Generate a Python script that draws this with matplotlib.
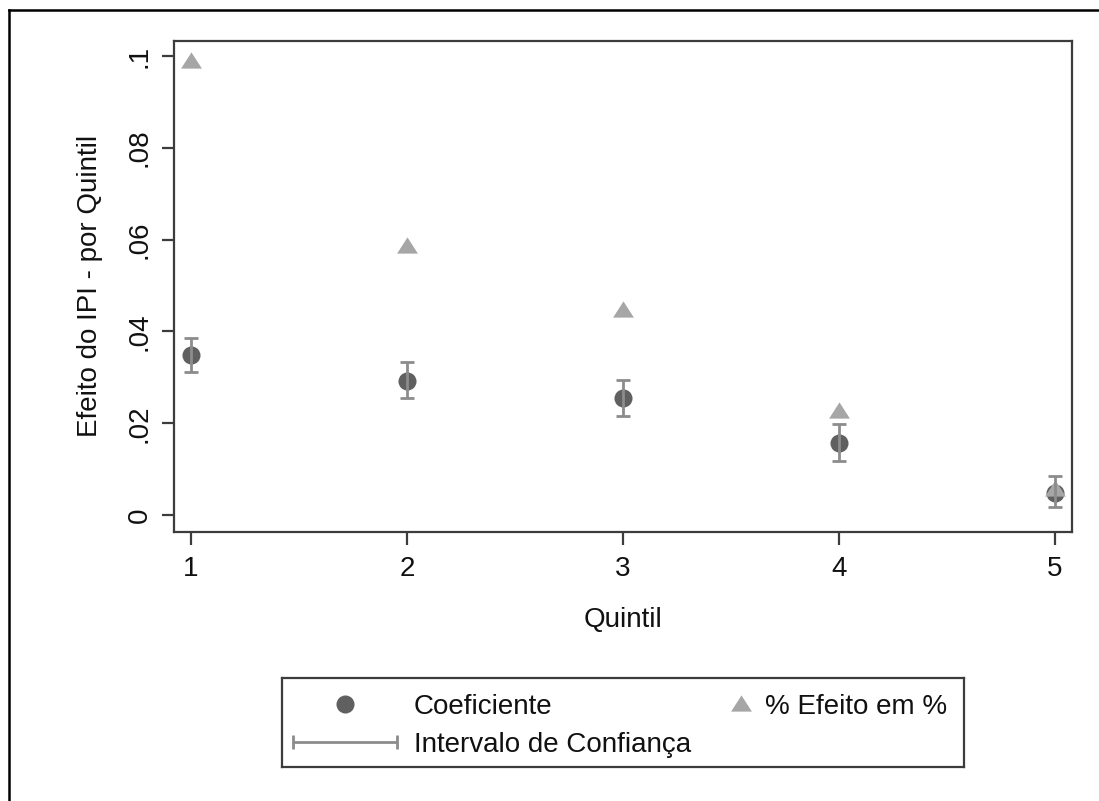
import matplotlib.pyplot as plt
from matplotlib.lines import Line2D

plt.rcParams['font.family'] = ['Liberation Sans', 'DejaVu Sans']

# coeficientes por quintil com intervalo de confiança
quintis = [1, 2, 3, 4, 5]
coef = [0.0349, 0.0293, 0.0255, 0.0158, 0.0047]
ic_inf = [0.0312, 0.0255, 0.0216, 0.0118, 0.0017]
ic_sup = [0.0385, 0.0333, 0.0294, 0.0198, 0.0084]
efeito_pct = [0.0991, 0.0589, 0.0449, 0.0228, 0.0059]

yticks = [0, 0.02, 0.04, 0.06, 0.08, 0.1]
ytick_labels = ['0', '.02', '.04', '.06', '.08', '.1']

cor_coef = '#606060'
cor_efeito = '#a6a6a6'
cor_ic = '#8c8c8c'
cor_eixo = '#3c3c3c'
cor_texto = '#111111'

# triangulo mais largo que alto, como no Stata
tri = [(-1, -0.78), (1, -0.78), (0, 0.78), (-1, -0.78)]

fig = plt.figure(figsize=(10.99, 8.01), dpi=100)
ax = fig.add_axes([0.1579, 0.3358, 0.8171, 0.6136])

ax.plot(quintis, coef, 'o', color=cor_coef, markersize=13, markeredgewidth=0, zorder=2)
ax.plot(quintis, efeito_pct, marker=tri, linestyle='none', color=cor_efeito,
        markersize=15, markeredgewidth=0, zorder=3)
erro = [[c - lo for c, lo in zip(coef, ic_inf)], [hi - c for c, hi in zip(coef, ic_sup)]]
ax.errorbar(quintis, coef, yerr=erro, fmt='none', ecolor=cor_ic, elinewidth=2.0,
            capsize=5, capthick=2.0, zorder=4)

ax.set_xlim(0.92, 5.076)
ax.set_ylim(-0.0037, 0.1034)
ax.set_xticks(quintis)
ax.set_yticks(yticks, ytick_labels, rotation=90, va='center')

for s in ax.spines.values():
    s.set_color(cor_eixo)
    s.set_linewidth(1.6)
ax.tick_params(axis='both', direction='out', length=9, width=1.6, color=cor_eixo,
               labelsize=20, labelcolor=cor_texto)
ax.tick_params(axis='x', pad=8)
ax.tick_params(axis='y', pad=6)

ax.set_xlabel('Quintil', fontsize=20, color=cor_texto, labelpad=18)
ax.set_ylabel('Efeito do IPI - por Quintil', fontsize=20, color=cor_texto, labelpad=17)

# legenda desenhada à mão numa caixa própria
leg = fig.add_axes([0.2569, 0.0428, 0.6203, 0.1104])
leg.set_xlim(0, 1)
leg.set_ylim(0, 1)
leg.set_xticks([])
leg.set_yticks([])
for s in leg.spines.values():
    s.set_color(cor_eixo)
    s.set_linewidth(1.6)

leg.plot([0.092], [0.706], 'o', color=cor_coef, markersize=13, markeredgewidth=0)
leg.text(0.193, 0.706, 'Coeficiente', fontsize=20, color=cor_texto, va='center_baseline')
leg.plot([0.673], [0.725], marker=tri, linestyle='none', color=cor_efeito,
         markersize=15, markeredgewidth=0)
leg.text(0.708, 0.706, '% Efeito em %', fontsize=20, color=cor_texto, va='center_baseline')
leg.errorbar([0.0915], [0.276], xerr=[[0.0762]], fmt='none', ecolor=cor_ic,
             elinewidth=2.0, capsize=5, capthick=2.0)
leg.text(0.193, 0.276, 'Intervalo de Confiança', fontsize=20, color=cor_texto,
         va='center_baseline')

# moldura externa (só topo e lado esquerdo)
x0, y0 = 9 / 1099, 1 - 10 / 801
fig.add_artist(Line2D([x0, 1], [y0, y0], transform=fig.transFigure, color='black', linewidth=1.8))
fig.add_artist(Line2D([x0, x0], [0, y0], transform=fig.transFigure, color='black', linewidth=1.8))

fig.savefig('out.png', dpi=100, facecolor='white')
